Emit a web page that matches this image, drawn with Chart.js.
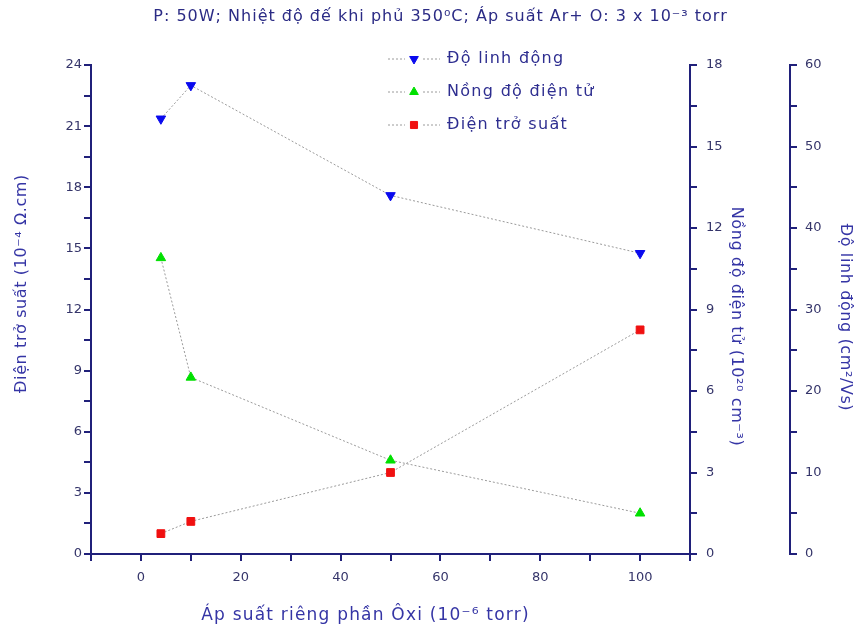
<!DOCTYPE html>
<html><head><meta charset="utf-8">
<script src="https://cdn.jsdelivr.net/npm/chart.js@4"></script>
<style>html,body{margin:0;padding:0;background:#fff}canvas{display:block}</style>
</head><body>
<canvas id="c" width="865" height="635"></canvas>
<script>
const xValues = [4, 10, 50, 100];
const mobility = [53.4, 57.5, 44.0, 36.9];
const concentration = [10.9, 6.5, 3.45, 1.5];
const resistivity = [1.0, 1.6, 4.0, 11.0];
const seriesNames = ['Độ linh động', 'Nồng độ điện tử', 'Điện trở suất'];
const titleText = 'P: 50W; Nhiệt độ đế khi phủ 350⁰C; Áp suất Ar+ O: 3 x 10⁻³ torr';
const xTitle = 'Áp suất riêng phần Ôxi (10⁻⁶ torr)';
const yLeftTitle = 'Điện trở suất (10⁻⁴ Ω.cm)';
const yConcTitle = 'Nồng độ điện tử (10²⁰ cm⁻³)';
const yMobTitle = 'Độ linh động (cm²/Vs)';

const FONT = '"DejaVu Sans", sans-serif';
const NAVY = '#20207a';
const TICKC = '#35356a';
const TITLEC = '#3535a5';
const LINEC = '#9a9a9a';

const pts = arr => xValues.map((x, i) => ({x, y: arr[i]}));

const datasets = [
  {label: seriesNames[0], data: pts(mobility), yAxisID: 'y2', pointStyle: 'triangle', rotation: 180,
   pointRadius: 5.5, pointBackgroundColor: '#0a0aee', pointBorderColor: '#0a0aee', pointBorderWidth: 1},
  {label: seriesNames[1], data: pts(concentration), yAxisID: 'y1', pointStyle: 'triangle', rotation: 0,
   pointRadius: 5.5, pointBackgroundColor: '#00e000', pointBorderColor: '#00e000', pointBorderWidth: 1},
  {label: seriesNames[2], data: pts(resistivity), yAxisID: 'y', pointStyle: 'rect', rotation: 0,
   pointRadius: 5.5, pointBackgroundColor: '#f01010', pointBorderColor: '#f01010', pointBorderWidth: 1}
].map(d => Object.assign(d, {showLine: true, borderColor: LINEC, borderWidth: 1, borderDash: [2, 2], fill: false, tension: 0}));

const every = m => (v) => { const r = v / m; return (Math.abs(r - Math.round(r)) < 1e-6 && v >= 0) ? String(Math.round(v)) : ''; };

function axis(opts) {
  return Object.assign({
    type: 'linear',
    grid: {drawOnChartArea: false, drawTicks: true, tickLength: 7, color: NAVY, lineWidth: 2},
    border: {display: true, color: NAVY, width: 2},
  }, opts);
}

// text styling tweaks: letter spacing and shift for titles
const titleTweaks = {
  x: {spacing: '1.2px', dx: -25, dy: 1},
  y: {spacing: '0.6px', dx: 0, dy: -26},
  y1: {spacing: '0.6px', dx: 0, dy: 17},
  y2: {spacing: '0.6px', dx: 0, dy: 8}
};

function wrapDraw(obj, fnName, tw) {
  if (!obj || obj['__w_' + fnName]) return;
  const orig = obj[fnName].bind(obj);
  obj[fnName] = function(...args) {
    const ctx = obj.ctx || obj.chart.ctx;
    ctx.save();
    ctx.letterSpacing = tw.spacing;
    ctx.translate(tw.dx, tw.dy);
    orig(...args);
    ctx.restore();
  };
  obj['__w_' + fnName] = true;
}

const tweakPlugin = {
  id: 'tweak',
  beforeDraw(chart) {
    Object.keys(titleTweaks).forEach(id => wrapDraw(chart.scales[id], 'drawTitle', titleTweaks[id]));
    if (chart.titleBlock) wrapDraw(chart.titleBlock, 'draw', {spacing: '1px', dx: 8, dy: 0});
  }
};

const legendPlugin = {
  id: 'customLegend',
  afterDraw(chart) {
    const ctx = chart.ctx;
    const rows = [59, 92, 125];
    chart.data.datasets.forEach((ds, i) => {
      const y = rows[i];
      ctx.save();
      ctx.strokeStyle = LINEC; ctx.lineWidth = 1; ctx.setLineDash([2, 2]);
      ctx.beginPath(); ctx.moveTo(388, y); ctx.lineTo(405, y); ctx.moveTo(423, y); ctx.lineTo(440, y); ctx.stroke();
      ctx.setLineDash([]);
      ctx.fillStyle = ds.pointBackgroundColor; ctx.strokeStyle = ds.pointBorderColor; ctx.lineWidth = 1;
      Chart.helpers.drawPoint(ctx, {pointStyle: ds.pointStyle, rotation: ds.rotation, radius: 5, borderWidth: 1}, 414, y);
      ctx.fillStyle = '#2e2e90';
      ctx.font = '16px ' + FONT;
      ctx.letterSpacing = '1.3px';
      ctx.textBaseline = 'middle';
      ctx.textAlign = 'left';
      ctx.fillText(ds.label, 447, y);
      ctx.restore();
    });
  }
};

new Chart(document.getElementById('c'), {
  type: 'scatter',
  data: {datasets},
  plugins: [tweakPlugin, legendPlugin],
  options: {
    responsive: false,
    animation: false,
    layout: {padding: 0},
    plugins: {
      legend: {display: false},
      tooltip: {enabled: false},
      title: {display: true, text: titleText, color: '#2b2b85', font: {family: FONT, size: 16, weight: 'normal'},
              padding: {top: 7, bottom: 38.8}}
    },
    scales: {
      x: axis({position: 'bottom', min: -10, max: 110,
        ticks: {stepSize: 10, autoSkip: false, maxRotation: 0, color: TICKC, font: {family: FONT, size: 13}, padding: 9, callback: every(20)},
        title: {display: true, text: xTitle, color: TITLEC, font: {family: FONT, size: 17}, padding: {top: 0, bottom: 10}},
        afterFit: s => { s.height = 81; }}),
      y: axis({position: 'left', min: 0, max: 24,
        ticks: {stepSize: 1.5, autoSkip: false, color: TICKC, font: {family: FONT, size: 13}, padding: 2, callback: every(3)},
        title: {display: true, text: yLeftTitle, color: TITLEC, font: {family: FONT, size: 16}, padding: {top: 12, bottom: 0}},
        afterFit: s => { s.width = 91; }}),
      y1: axis({position: 'right', min: 0, max: 18,
        ticks: {stepSize: 1.5, autoSkip: false, color: TICKC, font: {family: FONT, size: 13}, padding: 9, callback: every(3)},
        title: {display: true, text: yConcTitle, color: TITLEC, font: {family: FONT, size: 16}, padding: {top: 44, bottom: 0}},
        afterFit: s => { s.width = 100; }}),
      y2: axis({position: 'right', min: 0, max: 60,
        ticks: {stepSize: 5, autoSkip: false, color: TICKC, font: {family: FONT, size: 13}, padding: 8, callback: every(10)},
        title: {display: true, text: yMobTitle, color: TITLEC, font: {family: FONT, size: 16}, padding: {top: 10, bottom: 0}},
        afterFit: s => { s.width = 75; }})
    }
  }
});
</script>
</body></html>
